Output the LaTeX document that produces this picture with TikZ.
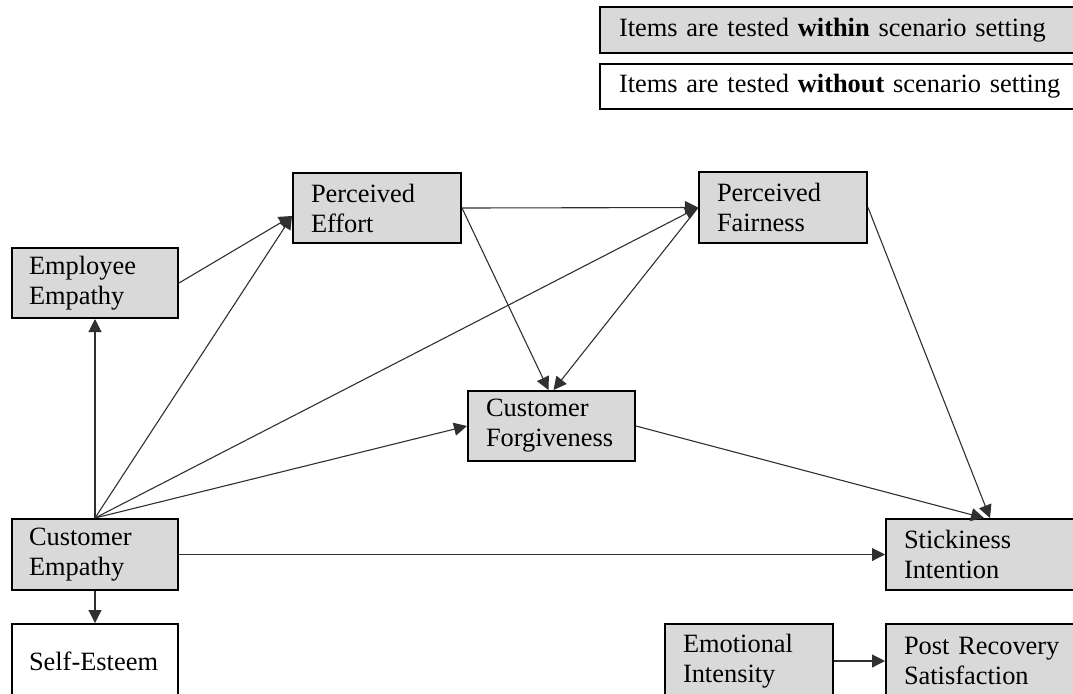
\documentclass[tikz,border=0pt]{standalone}
\usepackage{fontspec}
\setmainfont{Liberation Serif}
\usetikzlibrary{arrows.meta,calc}
\definecolor{boxgray}{HTML}{D9D9D9}
\definecolor{linegray}{HTML}{303030}
\begin{document}
\begin{tikzpicture}[x=0.5pt,y=-0.5pt,
  base/.style={draw=black,line width=1pt,anchor=north west,align=left,
    inner xsep=9pt,inner ysep=0pt,font=\fontsize{13.2pt}{15pt}\selectfont},
  gbox/.style={base,fill=boxgray},
  wbox/.style={base,fill=white},
  arr/.style={draw=linegray,line width=0.55pt,-{Triangle[length=6.5pt,width=6.5pt]}}]
\useasboundingbox (0,0) rectangle (1073,693);

% legend
\node[gbox,inner xsep=9.5pt,text width=221.5pt,minimum height=23pt] (leg1) at (599,6)
  {Items are tested \textbf{within} scenario setting};
\node[wbox,inner xsep=9.5pt,text width=221.5pt,minimum height=22.5pt] (leg2) at (599,63)
  {Items are tested \textbf{without} scenario setting};

% constructs
\node[gbox,text width=66pt,minimum height=35pt] (effort) at (292,172) {Perceived\\Effort};
\node[gbox,text width=66pt,minimum height=35.5pt] (fair) at (698,171) {Perceived\\Fairness};
\node[gbox,inner xsep=8.5pt,text width=66pt,minimum height=35pt] (emp) at (11,247) {Employee\\Empathy};
\node[gbox,text width=65.5pt,minimum height=35pt] (forg) at (467,390) {Customer\\Forgiveness};
\node[gbox,inner xsep=8.5pt,text width=66pt,minimum height=35.5pt] (cemp) at (11,518) {Customer\\Empathy};
\node[gbox,text width=92pt,minimum height=35.5pt] (stick) at (885,518) {Stickiness\\Intention};
\node[wbox,inner xsep=8.5pt,text width=66pt,minimum height=37pt] (self) at (11,623) {Self-Esteem};
\node[gbox,text width=66pt,minimum height=37pt] (emo) at (664,623) {Emotional\\Intensity};
\node[gbox,text width=92pt,minimum height=37pt] (post) at (885,623) {Post Recovery\\Satisfaction};

% paths
\draw[arr] (emp.east) -- ([yshift=-4pt]effort.west);
\draw[arr] (cemp.north) -- (emp.south);
\draw[arr] (cemp.north) -- ([yshift=-4pt]effort.west);
\draw[arr] (cemp.north) -- (fair.west);
\draw[arr] (cemp.north) -- (forg.west);
\draw[arr] (cemp.east) -- (stick.west);
\draw[arr] (cemp.south) -- (self.north);
\draw[arr] (effort.east) -- (fair.west);
\draw[arr] (effort.east) -- ([xshift=-1.5pt]forg.north);
\draw[arr] (fair.west) -- ([xshift=1pt]forg.north);
\draw[arr] (fair.east) -- ([xshift=-3pt]stick.north);
\draw[arr] (forg.east) -- ([xshift=-6pt]stick.north);
\draw[arr] (emo.east) -- (post.west);
\end{tikzpicture}
\end{document}
